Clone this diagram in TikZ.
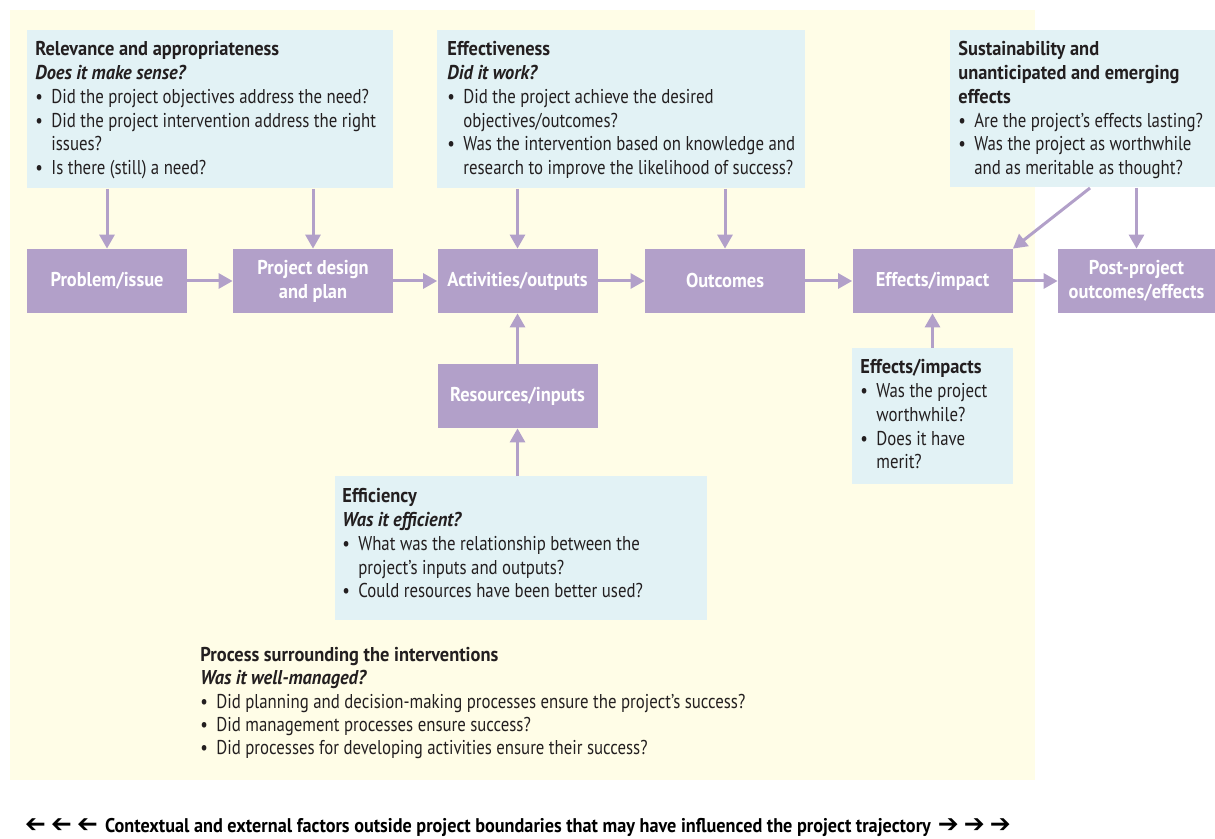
\documentclass[tikz,border=0pt]{standalone}
\usepackage{graphicx}
\usepackage{fontspec}
\setmainfont{PT Sans}[FakeStretch=0.84,BoldFeatures={FakeStretch=0.92},BoldItalicFeatures={FakeStretch=0.92}]
\newfontfamily\arrowfont{DejaVu Sans}
\usetikzlibrary{arrows.meta,positioning}
\definecolor{bgyellow}{RGB}{255,253,231}
\definecolor{infoblue}{RGB}{226,242,245}
\definecolor{stagepurple}{RGB}{178,160,201}
\definecolor{inkdark}{RGB}{35,31,32}
\newcommand{\bul}{\makebox[8pt][l]{\textbullet}}
\newcommand{\ind}{\hspace*{8pt}}
\newcommand{\rightglyph}{{\arrowfont\bfseries\fontsize{12.5}{12.5}\selectfont ➔}}
\newcommand{\goright}{\makebox[13pt][c]{\rightglyph}}
\newcommand{\goleft}{\makebox[13pt][c]{\reflectbox{\rightglyph}}}
\begin{document}
\begin{tikzpicture}[x=0.5pt,y=-0.5pt,
  stage/.style={fill=stagepurple,text=white,font=\bfseries\fontsize{10}{12}\selectfont,
    minimum width=80pt,minimum height=32pt,align=center,inner sep=0pt},
  infobox/.style={fill=infoblue,anchor=north west,inner sep=0pt},
  note/.style={anchor=north west,inner sep=0pt,align=left,text=inkdark,
    font=\fontsize{10}{11.9}\selectfont},
  flow/.style={draw=stagepurple,line width=1.5pt,-{Triangle[length=7pt,width=7.5pt]}}]
\useasboundingbox (0,0) rectangle (1215,839);
\fill[bgyellow] (10,10) rectangle (1035,780);
% question boxes
\node[infobox,minimum width=183pt,minimum height=79pt] (relbox) at (27,30) {};
\node[infobox,minimum width=184pt,minimum height=79pt] (effbox) at (437,30) {};
\node[infobox,minimum width=132.5pt,minimum height=78.5pt] (susbox) at (950,30) {};
\node[infobox,minimum width=186pt,minimum height=72pt] (ecybox) at (335,476) {};
\node[infobox,minimum width=80.5pt,minimum height=68pt] (impbox) at (852,348) {};
% project stages
\node[stage] (problem) at (107,281) {Problem/issue};
\node[stage] (design) at (313,281) {Project design\\and plan};
\node[stage] (activities) at (517.5,281) {Activities/outputs};
\node[stage] (outcomes) at (725,281) {Outcomes};
\node[stage] (effects) at (932.5,281) {Effects/impact};
\node[stage,minimum width=78.5pt] (post) at (1136.5,281) {Post-project\\outcomes/effects};
\node[stage] (resources) at (517.5,396) {Resources/inputs};
\draw[flow] (problem) -- (design);
\draw[flow] (design) -- (activities);
\draw[flow] (activities) -- (outcomes);
\draw[flow] (outcomes) -- (effects);
\draw[flow] (effects) -- (post);
\draw[flow] (relbox.south -| problem.north) -- (problem.north);
\draw[flow] (relbox.south -| design.north) -- (design.north);
\draw[flow] (effbox.south -| activities.north) -- (activities.north);
\draw[flow] (effbox.south -| outcomes.north) -- (outcomes.north);
\draw[flow] (susbox.south -| post.north) -- (post.north);
\coordinate (susfoot) at (1090,188);
\draw[flow] (susfoot) -- (effects.north east);
\draw[flow] (resources) -- (activities);
\draw[flow] (ecybox.north -| resources.south) -- (resources.south);
\draw[flow] (impbox.north -| effects.south) -- (effects.south);
% texts
\node[note] (reltxt) at (35,41) {\textbf{Relevance and appropriateness}\\
  \textbf{\textit{Does it make sense?}}\\
  \bul Did the project objectives address the need?\\
  \bul Did the project intervention address the right\\
  \ind issues?\\
  \bul Is there (still) a need?};
\node[note] (efftxt) at (447,41) {\textbf{Effectiveness}\\
  \textbf{\textit{Did it work?}}\\
  \bul Did the project achieve the desired\\
  \ind objectives/outcomes?\\
  \bul Was the intervention based on knowledge and\\
  \ind research to improve the likelihood of success?};
\node[note] (sustxt) at (958,41) {\textbf{Sustainability and}\\
  \textbf{unanticipated and emerging}\\
  \textbf{effects}\\
  \bul Are the project’s effects lasting?\\
  \bul Was the project as worthwhile\\
  \ind and as meritable as thought?};
\node[note] (ecytxt) at (342,488) {\textbf{Efficiency}\\
  \textbf{\textit{Was it efficient?}}\\
  \bul What was the relationship between the\\
  \ind project’s inputs and outputs?\\
  \bul Could resources have been better used?};
\node[note] (imptxt) at (860,359) {\textbf{Effects/impacts}\\
  \bul Was the project\\
  \ind worthwhile?\\
  \bul Does it have\\
  \ind merit?};
\node[note,font=\fontsize{10}{11.6}\selectfont] (proctxt) at (200,647) {\textbf{Process surrounding the interventions}\\
  \textbf{\textit{Was it well-managed?}}\\
  \bul Did planning and decision-making processes ensure the project’s success?\\
  \bul Did management processes ensure success?\\
  \bul Did processes for developing activities ensure their success?};
\node[anchor=base west,inner sep=0pt,text=black,font=\bfseries\fontsize{9.9}{11}\selectfont]
  (context) at (22,832) {\goleft\goleft\goleft\ Contextual and external factors outside project boundaries that may have influenced the project trajectory \goright\goright\goright};
\end{tikzpicture}
\end{document}
